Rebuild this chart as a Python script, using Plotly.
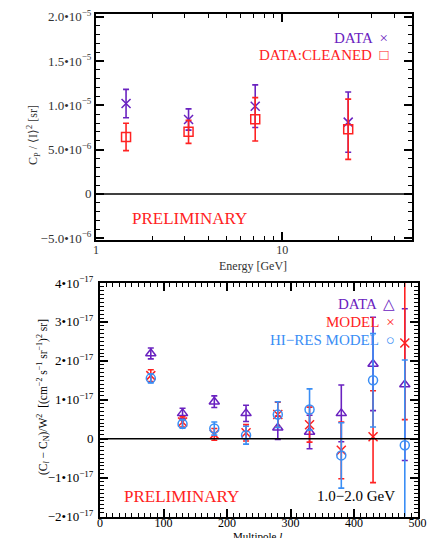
import plotly.graph_objects as go

# ---- top panel data ----
energy = [1.45, 3.14, 7.16, 22.6]
data_cp = [1.02e-5, 0.84e-5, 0.99e-5, 0.81e-5]
data_cp_err = [0.16e-5, 0.12e-5, 0.24e-5, 0.34e-5]
clean_cp = [0.643e-5, 0.70e-5, 0.842e-5, 0.73e-5]
clean_cp_err = [0.155e-5, 0.13e-5, 0.245e-5, 0.34e-5]

# ---- bottom panel data ----
multipole = [80, 130, 180, 230, 280, 330, 380, 430, 480]
data_cl = [2.19e-17, 0.65e-17, 0.95e-17, 0.65e-17, 0.28e-17, 0.17e-17, 0.65e-17, 1.92e-17, 1.39e-17]
data_cl_err = [0.14e-17, 0.13e-17, 0.15e-17, 0.21e-17, 0.30e-17, 0.43e-17, 0.73e-17, 1.20e-17, 1.95e-17]
model_cl = [1.62e-17, 0.43e-17, 0.11e-17, 0.15e-17, 0.62e-17, 0.36e-17, -0.30e-17, 0.05e-17, 2.46e-17]
model_cl_err = [0.15e-17, 0.13e-17, 0.15e-17, 0.21e-17, 0.32e-17, 0.45e-17, 0.73e-17, 1.18e-17, 1.97e-17]
hires_cl = [1.55e-17, 0.38e-17, 0.26e-17, 0.09e-17, 0.62e-17, 0.75e-17, -0.43e-17, 1.50e-17, -0.17e-17]
hires_cl_err = [0.12e-17, 0.11e-17, 0.17e-17, 0.23e-17, 0.33e-17, 0.53e-17, 0.84e-17, 1.20e-17, 2.19e-17]

top_yticks = [-5e-6, 0, 5e-6, 1e-5, 1.5e-5, 2e-5]
top_yticktext = ["−5.0•10<sup>−6</sup>", "0", "5.0•10<sup>−6</sup>", "1.0•10<sup>−5</sup>",
                 "1.5•10<sup>−5</sup>", "2.0•10<sup>−5</sup>"]
bot_yticks = [-2e-17, -1e-17, 0, 1e-17, 2e-17, 3e-17, 4e-17]
bot_yticktext = ["−2•10<sup>−17</sup>", "−1•10<sup>−17</sup>", "0", "1•10<sup>−17</sup>",
                 "2•10<sup>−17</sup>", "3•10<sup>−17</sup>", "4•10<sup>−17</sup>"]

PURPLE = "#6a22c0"
RED = "#ff2222"
BLUE = "#3a8ef5"
FONT = "Liberation Serif"

W, H = 437, 538
fig = go.Figure()

def eb(err, color):
    return dict(type="data", array=err, visible=True, color=color, thickness=1.6, width=3)

def mk(symbol, color, size=9):
    return dict(symbol=symbol, size=size, color=color, line=dict(color=color, width=1.5))

fig.add_trace(go.Scatter(x=energy, y=data_cp, mode="markers", xaxis="x", yaxis="y",
                         marker=mk("x-thin-open", PURPLE), error_y=eb(data_cp_err, PURPLE), showlegend=False))
fig.add_trace(go.Scatter(x=energy, y=clean_cp, mode="markers", xaxis="x", yaxis="y",
                         marker=mk("square-open", RED), error_y=eb(clean_cp_err, RED), showlegend=False))

fig.add_trace(go.Scatter(x=multipole, y=data_cl, mode="markers", xaxis="x2", yaxis="y2",
                         marker=mk("triangle-up-open", PURPLE), error_y=eb(data_cl_err, PURPLE), showlegend=False))
fig.add_trace(go.Scatter(x=multipole, y=model_cl, mode="markers", xaxis="x2", yaxis="y2",
                         marker=mk("x-thin-open", RED), error_y=eb(model_cl_err, RED), showlegend=False))
fig.add_trace(go.Scatter(x=multipole, y=hires_cl, mode="markers", xaxis="x2", yaxis="y2",
                         marker=mk("circle-open", BLUE), error_y=eb(hires_cl_err, BLUE), showlegend=False))

axis_common = dict(showline=True, linecolor="black", linewidth=2, mirror="allticks",
                   ticks="inside", ticklen=8, tickwidth=1.5, tickcolor="black",
                   showgrid=False, zeroline=False, automargin=False, ticklabeloverflow="allow")

fig.update_layout(
    width=W, height=H, margin=dict(l=0, r=0, t=0, b=0),
    paper_bgcolor="white", plot_bgcolor="white",
    font=dict(family=FONT, size=12, color="black"),
    xaxis=dict(domain=[88/W, 403.5/W], anchor="y", type="log", range=[0, 1.694],
               tickvals=[1, 10], ticktext=["1", "10"], ticklabelstandoff=-2,
               minor=dict(ticks="inside", ticklen=4, tickcolor="black", tickwidth=1,
                          tickvals=[2, 3, 4, 5, 6, 7, 8, 9, 20, 30, 40]),
               tickfont=dict(size=12, color="#333"),
               **axis_common),
    yaxis=dict(domain=[(H-232)/H, (H-6)/H], anchor="x", range=[-5.2e-6, 2.03e-5],
               tickvals=top_yticks, ticktext=top_yticktext,
               minor=dict(ticks="inside", ticklen=4, tickcolor="black", tickwidth=1, dtick=1e-6),
               tickfont=dict(size=13, color="#333"),
               **axis_common),
    xaxis2=dict(domain=[92/W, 409.5/W], anchor="y2", range=[0, 500],
                tickvals=[0, 100, 200, 300, 400, 500], ticklabelstandoff=-6,
                minor=dict(ticks="inside", ticklen=4, tickcolor="black", tickwidth=1, dtick=10),
                tickfont=dict(size=12),
                **axis_common),
    yaxis2=dict(domain=[(H-508.5)/H, (H-275)/H], anchor="x2", range=[-2e-17, 4e-17],
                tickvals=bot_yticks, ticktext=bot_yticktext, ticklabelstandoff=2,
                minor=dict(ticks="inside", ticklen=4, tickcolor="black", tickwidth=1, dtick=1e-18),
                tickfont=dict(size=13),
                **axis_common),
    shapes=[
        dict(type="line", xref="x domain", yref="y", x0=0, x1=1, y0=0, y1=0, line=dict(color="black", width=1.5)),
        dict(type="line", xref="x2 domain", yref="y2", x0=0, x1=1, y0=0, y1=0, line=dict(color="black", width=1.5)),
    ],
)

def ann(text, x, y, color, size, xanchor="right", angle=0):
    fig.add_annotation(text=text, x=x/W, y=1-y/H, xref="paper", yref="paper",
                       xanchor=xanchor, yanchor="middle", showarrow=False, textangle=angle,
                       font=dict(family=FONT, size=size, color=color))

# axis titles
ann("Energy [GeV]", 245, 258, "#333", 12, "center")
ann("C<sub>P</sub> / ⟨I⟩<sup>2</sup> [sr]", 25, 127, "#333", 12, "center", -90)
ann("Multipole <i>l</i>", 249, 528, "black", 11, "center")
ann("(C<sub><i>l</i></sub> − C<sub>N</sub>)/W<sup>2</sup>  [(cm<sup>−2</sup> s<sup>−1</sup> sr<sup>−1</sup>)<sup>2</sup> sr]",
    35, 389, "black", 11.5, "center", -90)

# legends / labels
ann("DATA  ×", 382, 30, PURPLE, 15)
ann("DATA:CLEANED  □", 383, 47, RED, 15)
ann("PRELIMINARY", 122, 210, RED, 17, "left")

ann("DATA  △", 389, 296, PURPLE, 15)
ann("MODEL  ×", 389, 314, RED, 15)
ann("HI−RES MODEL  ○", 389, 332, BLUE, 15)
ann("PRELIMINARY", 114, 488, RED, 17, "left")
ann("1.0−2.0 GeV", 389, 488, "black", 15)

fig.write_html("out.html")
